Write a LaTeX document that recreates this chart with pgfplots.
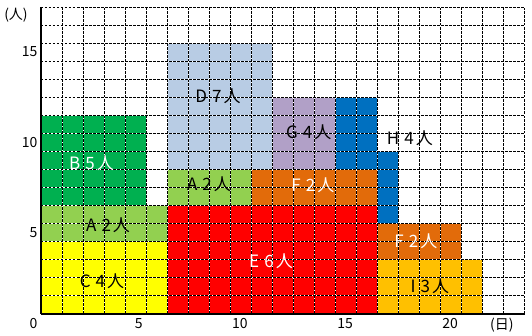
\documentclass[border=0pt]{standalone}
\usepackage{fontspec}
\setmainfont{Noto Sans CJK JP}
\usepackage{pgfplots}
\pgfplotsset{compat=1.18}
\definecolor{cYel}{HTML}{FFFF00}
\definecolor{cLGr}{HTML}{92D050}
\definecolor{cGrn}{HTML}{00B050}
\definecolor{cLBl}{HTML}{B8CCE4}
\definecolor{cRed}{HTML}{FF0000}
\definecolor{cOrg}{HTML}{E26B0A}
\definecolor{cPur}{HTML}{B1A0C7}
\definecolor{cBlu}{HTML}{0070C0}
\definecolor{cGld}{HTML}{FFC000}
\newcommand{\lab}[2]{#1\hspace{0.3em}#2\hspace{0.12em}人}
\begin{document}
\begin{tikzpicture}
\begin{axis}[
  at={(0pt,0pt)}, anchor=south west,
  scale only axis, width=483.5pt, height=306.4pt,
  xmin=0, xmax=23, ymin=0, ymax=17,
  axis lines=left, axis line style={-, line width=2pt, black},
  axis on top,
  xtick={0,5,10,15,20}, minor xtick={0,...,23},
  ytick={5,10,15}, minor ytick={0,...,17},
  grid=both,
  major grid style={white, line width=0.8pt, postaction={draw=black, dash pattern=on 2.5pt off 1.5pt}},
  minor grid style={white, line width=0.8pt, postaction={draw=black, dash pattern=on 2.5pt off 1.5pt}},
  major tick length=0pt, minor tick length=0pt,
  tick style={draw=none},
  /pgf/number format/assume math mode=true,
  ticklabel style={font=\fontsize{14}{14}\selectfont},
  xticklabel style={anchor=north east, yshift=-1pt},
  yticklabel style={anchor=north east},
  clip=false,
]
% C
\addplot[fill=cYel, draw=none] coordinates {(0,0) (6,0) (6,4) (0,4)} -- cycle;
% A (left)
\addplot[fill=cLGr, draw=none] coordinates {(0,4) (6,4) (6,6) (0,6)} -- cycle;
% B
\addplot[fill=cGrn, draw=none] coordinates {(0,6) (5,6) (5,11) (0,11)} -- cycle;
% E
\addplot[fill=cRed, draw=none] coordinates {(6,0) (16,0) (16,6) (6,6)} -- cycle;
% A (second)
\addplot[fill=cLGr, draw=none] coordinates {(6,6) (10,6) (10,8) (6,8)} -- cycle;
% F (first)
\addplot[fill=cOrg, draw=none] coordinates {(10,6) (16,6) (16,8) (10,8)} -- cycle;
% D
\addplot[fill=cLBl, draw=none] coordinates {(6,8) (11,8) (11,15) (6,15)} -- cycle;
% G
\addplot[fill=cPur, draw=none] coordinates {(11,8) (14,8) (14,12) (11,12)} -- cycle;
% H
\addplot[fill=cBlu, draw=none] coordinates {(14,8) (16,8) (16,12) (14,12)} -- cycle;
\addplot[fill=cBlu, draw=none] coordinates {(16,5) (17,5) (17,9) (16,9)} -- cycle;
% F (second)
\addplot[fill=cOrg, draw=none] coordinates {(16,3) (20,3) (20,5) (16,5)} -- cycle;
% I
\addplot[fill=cGld, draw=none] coordinates {(16,0) (21,0) (21,3) (16,3)} -- cycle;

\coordinate (lB) at (axis cs:2.40,8.36);
\coordinate (lA1) at (axis cs:3.19,4.92);
\coordinate (lC) at (axis cs:2.90,1.79);
\coordinate (lD) at (axis cs:8.42,12.04);
\coordinate (lA2) at (axis cs:7.99,7.17);
\coordinate (lE) at (axis cs:10.94,2.92);
\coordinate (lF1) at (axis cs:12.93,7.14);
\coordinate (lG) at (axis cs:12.74,10.06);
\coordinate (lH) at (axis cs:17.55,9.75);
\coordinate (lF2) at (axis cs:17.83,4.0);
\coordinate (lI) at (axis cs:18.5,1.5);
\coordinate (uY) at (axis cs:-1.19,16.58);
\coordinate (uX) at (axis cs:21.92,-0.63);
\end{axis}
\begin{scope}[every node/.style={font=\fontsize{17}{17}\selectfont, inner sep=0pt}]
\node[white] at (lB) {\lab{B}{5}};
\node[black] at (lA1) {\lab{A}{2}};
\node[black] at (lC) {\lab{C}{4}};
\node[black] at (lD) {\lab{D}{7}};
\node[black] at (lA2) {\lab{A}{2}};
\node[white] at (lE) {\lab{E}{6}};
\node[white] at (lF1) {\lab{F}{2}};
\node[black] at (lG) {\lab{G}{4}};
\node[black] at (lH) {\lab{H}{4}};
\node[white] at (lF2) {\lab{F}{2}};
\node[black] at (lI) {\lab{I}{3}};
\end{scope}
\node[font=\fontsize{14}{14}\selectfont, inner sep=0pt] at (uY) {(人)};
\node[font=\fontsize{14}{14}\selectfont, inner sep=0pt] at (uX) {(日)};
\pgfresetboundingbox
\useasboundingbox (-41pt,-22.3pt) rectangle (491pt,313.7pt);
\end{tikzpicture}
\end{document}
